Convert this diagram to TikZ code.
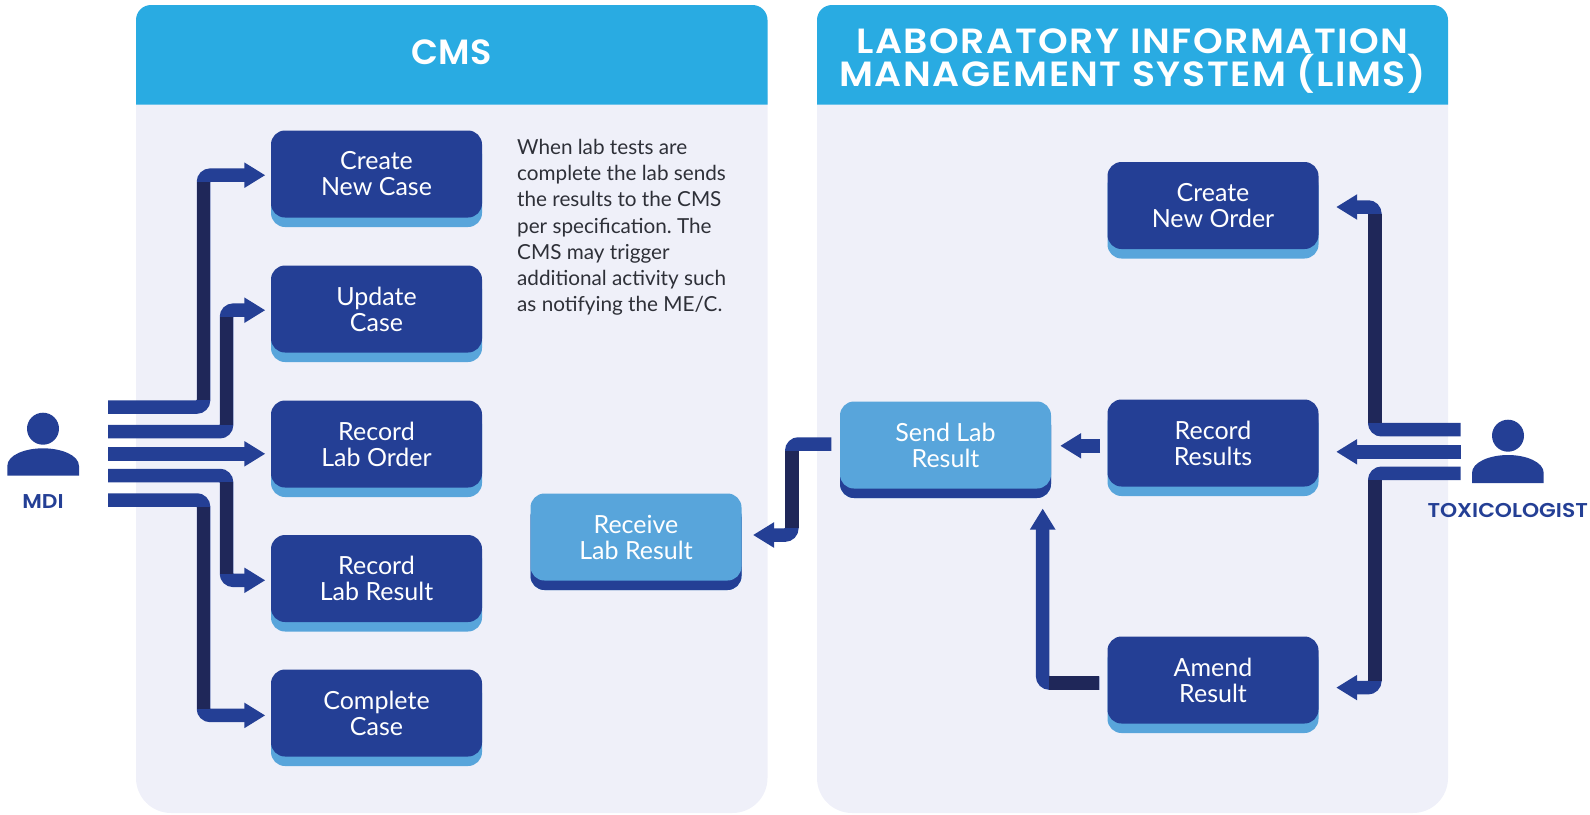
\documentclass[tikz,border=0pt]{standalone}
\usepackage{fontspec}
\setmainfont{Lato}
\newfontfamily\headfont{Poppins SemiBold}
\newfontfamily\limsfont[FakeStretch=1.08,LetterSpace=4.4]{Poppins SemiBold}
\newfontfamily\rolefont[FakeStretch=1.09]{Poppins SemiBold}
\usetikzlibrary{arrows.meta, shadows}
\definecolor{navy}{HTML}{243F95}
\definecolor{darknavy}{HTML}{1F2759}
\definecolor{sky}{HTML}{29ABE2}
\definecolor{softblue}{HTML}{58A5DB}
\definecolor{panel}{HTML}{EFF0F9}
\definecolor{note}{HTML}{2E3038}
\tikzset{task/.style={fill=navy, text=white, rounded corners=14pt, minimum width=211pt, minimum height=87pt, inner sep=0pt, align=center,
            font=\fontsize{25}{26}\selectfont, general shadow={fill=softblue, shadow xshift=0pt, shadow yshift=-9.5pt}},
         lab/.style={task, fill=softblue, general shadow={fill=navy, shadow xshift=0pt, shadow yshift=-9.5pt}},
         flow/.style={draw=navy, line width=13.5pt, rounded corners=6.75pt, -{Triangle[length=21pt,width=24pt]}, shorten >=5.5pt},
         riser/.style={draw=darknavy, line width=13.5pt},
         title/.style={text=white, align=center, font=\headfont\fontsize{35}{33.5}\selectfont},
         role/.style={text=navy, font=\rolefont\fontsize{20}{22}\selectfont},
         person/.style={fill=navy},
        }
\begin{document}
\frenchspacing
\begin{tikzpicture}[x=1pt,y=-1pt]
        \useasboundingbox (0,0) rectangle (1590,814);

        \fill[panel, rounded corners=35pt] (136,60) rectangle (767.5,813);
        \fill[panel, rounded corners=35pt] (817,60) rectangle (1448,813);
        \fill[sky] (136,104.5) [rounded corners=15pt] -- (136,5) -- (767.5,5) [sharp corners] -- (767.5,104.5) -- cycle;
        \fill[sky] (817,104.5) [rounded corners=15pt] -- (817,5) -- (1448,5) [sharp corners] -- (1448,104.5) -- cycle;
        \node[title](cms)at(451.5,52.5){CMS};
        \node[title, font=\limsfont\fontsize{35}{33.5}\selectfont](lims)at(1132.5,61){LABORATORY INFORMATION\\MANAGEMENT SYSTEM (LIMS)};

        \node[task](newcase)at(376.5,174){Create\\New Case};
        \node[task](update)at(376.5,309){Update\\Case};
        \node[task](laborder)at(376.5,444){Record\\Lab Order};
        \node[task](labresult)at(376.5,578.5){Record\\Lab Result};
        \node[task](complete)at(376.5,713){Complete\\Case};
        \node[lab](receive)at(636,537){Receive\\Lab Result};

        \node[lab](send)at(945.5,445){Send Lab\\Result};
        \node[task](neworder)at(1213,205.5){Create\\New Order};
        \node[task](results)at(1213,443){Record\\Results};
        \node[task](amend)at(1213,680){Amend\\Result};

        \node[align=left, text=note, anchor=north west, inner sep=0pt, font=\fontsize{20.7}{26.2}\selectfont](remark)at(517,139){When lab tests are\\complete the lab sends\\the results to the CMS\\per specification. The\\CMS may trigger\\additional activity such\\as notifying the ME/C.};

        % MDI side
        \fill[person] (43,428.7) circle (16);
        \fill[person] (7.3,475.7) -- (7.3,466) .. controls (7.3,455) and (25,448.3) .. (43,448.3) .. controls (61,448.3) and (79,455) .. (79,466) -- (79,475.7) -- cycle;
        \node[role](mdi)at(43,501.7){MDI};

        \coordinate(m1)at(108,407);
        \coordinate(m2)at(108,431.7);
        \coordinate(m3)at(108,453.8);
        \coordinate(m4)at(108,475.5);
        \coordinate(m5)at(108,500);

        \draw[flow](m1)-|(203.5,175.2)--(newcase.west|-0,175.2);
        \draw[flow](m2)-|(226.5,310.2)--(update.west|-0,310.2);
        \draw[flow](m3)--(laborder.west|-m3);
        \draw[flow](m4)-|(226.5,580.3)--(labresult.west|-0,580.3);
        \draw[flow](m5)-|(203.5,715.4)--(complete.west|-0,715.4);

        \draw[riser](203.5,182)--(203.5,400.2);
        \draw[riser](226.5,317)--(226.5,425);
        \draw[riser](226.5,482.2)--(226.5,573.5);
        \draw[riser](203.5,506.7)--(203.5,708.6);

        % toxicologist side
        \fill[person] (1508,435.7) circle (16);
        \fill[person] (1472,483) -- (1472,473) .. controls (1472,462) and (1490,455) .. (1508,455) .. controls (1526,455) and (1543.7,462) .. (1543.7,473) -- (1543.7,483) -- cycle;
        \node[role](tox)at(1507.7,510.7){TOXICOLOGIST};

        \coordinate(t1)at(1460.5,429.7);
        \coordinate(t2)at(1460.5,451.8);
        \coordinate(t3)at(1460.5,473.3);

        \draw[flow, shorten >=17.5pt](t1)-|(1374.8,207)--(neworder.east|-0,207);
        \draw[flow, shorten >=17.5pt](t2)--(results.east|-t2);
        \draw[flow, shorten >=17.5pt](t3)-|(1374.8,687.6)--(amend.east|-0,687.6);

        \draw[riser](1374.8,213.7)--(1374.8,423);
        \draw[riser](1374.8,480)--(1374.8,680.8);

        % lab result path
        \coordinate(s1)at(831.3,444);
        \coordinate(r1)at(1100,445.8);
        \coordinate(a1)at(1099.3,683);

        \draw[flow, shorten >=11.3pt](s1)-|(791.8,535)--(receive.east|-0,535);
        \draw[riser](791.8,450.7)--(791.8,528.3);
        \draw[flow, shorten >=9pt](r1)--(send.east|-r1);
        \draw[flow, shorten >=19.8pt](a1)-|(send.south-|1042.7,0);
        \draw[riser](1049.4,683)--(a1);
    \end{tikzpicture}
\end{document}
